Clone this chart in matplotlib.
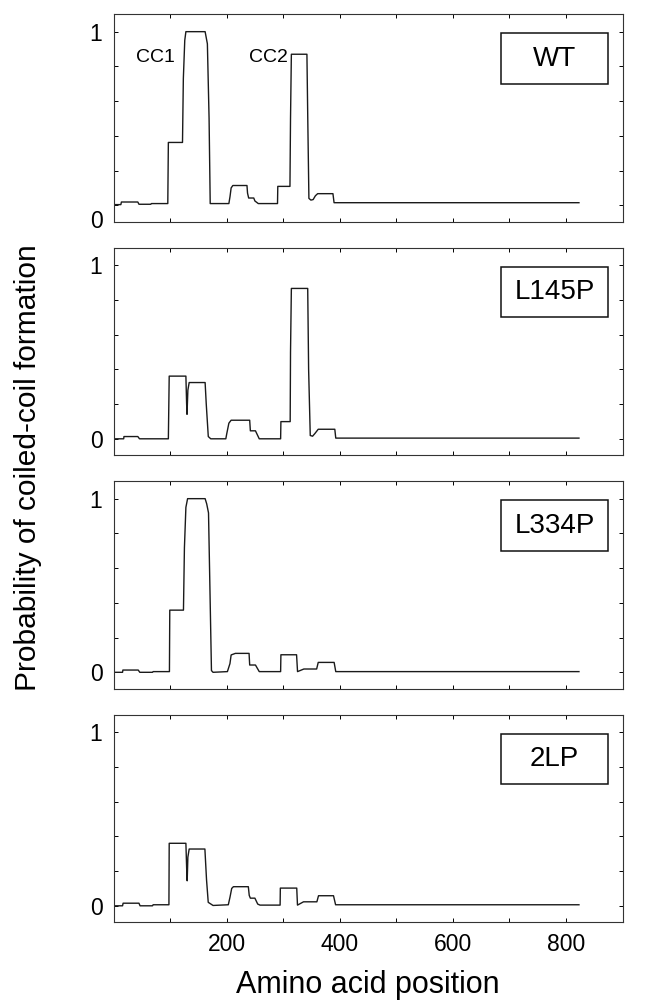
import matplotlib
matplotlib.use("Agg")
import matplotlib.pyplot as plt
import matplotlib.transforms as mtransforms
from matplotlib.patches import Rectangle
from matplotlib.ticker import FixedLocator, FuncFormatter

plt.rcParams['font.family'] = ['Liberation Sans', 'DejaVu Sans']

# traces (amino acid position, probability)
wt_x = [1, 13, 14, 43, 45, 66, 67, 96, 97, 122, 123.5, 126, 128, 162, 166, 169, 171,
        204, 206, 208, 211, 236, 237, 239, 248, 250, 256, 290, 290.5, 312, 313, 314.5,
        342, 343.5, 345.5, 349, 353, 357, 361, 388, 390, 823]
wt_y = [0.004, 0.004, 0.019, 0.019, 0.006, 0.006, 0.01, 0.01, 0.362, 0.362, 0.73, 0.95, 1.0, 1.0, 0.93, 0.5, 0.01,
        0.01, 0.05, 0.1, 0.114, 0.114, 0.07, 0.042, 0.042, 0.025, 0.01, 0.01, 0.109, 0.109, 0.5, 0.87,
        0.87, 0.5, 0.04, 0.03, 0.033, 0.055, 0.067, 0.067, 0.015, 0.015]

l145p_x = [1, 18, 18.5, 43, 46, 97, 98.5, 128, 129.3, 130, 131.5, 133.8, 162, 164, 167.6, 172,
           198.6, 200.3, 204, 208, 240.8, 242, 251, 257.7, 295.5, 296, 312.4, 313, 314.5,
           343.4, 345, 347.9, 352, 356, 362, 391.3, 393, 823]
l145p_y = [0.0, 0.0, 0.013, 0.013, 0.0, 0.0, 0.361, 0.361, 0.2, 0.141, 0.28, 0.324, 0.324, 0.2, 0.013, 0.0,
           0.0, 0.03, 0.09, 0.107, 0.107, 0.046, 0.046, 0.0, 0.0, 0.099, 0.099, 0.5, 0.866,
           0.866, 0.4, 0.019, 0.015, 0.03, 0.055, 0.055, 0.004, 0.004]

l334p_x = [1.4, 16, 16.6, 43.7, 46.5, 69, 70, 98.9, 99.5, 123.7, 125.4, 128, 131, 162, 164.8, 168, 170.4,
           173.2, 176, 201.4, 205.9, 208, 215.5, 239.7, 240.8, 251, 257.7, 295.5, 296, 323.7, 325.4,
           336.6, 359.2, 362, 390.1, 393, 823]
l334p_y = [0.0, 0.0, 0.013, 0.013, 0.0, 0.0, 0.004, 0.004, 0.358, 0.358, 0.717, 0.95, 1.0, 1.0, 0.97, 0.918, 0.5,
           0.01, 0.0, 0.004, 0.05, 0.1, 0.109, 0.109, 0.042, 0.042, 0.004, 0.004, 0.101, 0.101, 0.004,
           0.019, 0.019, 0.057, 0.057, 0.004, 0.004]

lp2_x = [2, 16, 17, 45, 47, 69, 70, 98, 98.5, 128, 129.5, 130.3, 131.5, 133.8, 161.6, 164.5, 167.5,
         176, 203, 206, 209, 212, 238.4, 240, 242, 250, 255, 259, 294.6, 295, 324, 325.3,
         336, 359.6, 362.5, 389, 392.7, 823]
lp2_y = [0.0, 0.0, 0.015, 0.015, 0.0, 0.0, 0.006, 0.006, 0.36, 0.36, 0.2, 0.144, 0.28, 0.327, 0.327, 0.15, 0.02,
         0.002, 0.006, 0.05, 0.1, 0.11, 0.11, 0.06, 0.044, 0.044, 0.01, 0.004, 0.004, 0.102, 0.102, 0.004,
         0.023, 0.023, 0.058, 0.058, 0.006, 0.006]

names = ['WT', 'L145P', 'L334P', '2LP']
xs = [wt_x, l145p_x, l334p_x, lp2_x]
ys = [wt_y, l145p_y, l334p_y, lp2_y]

W, H = 649, 1002
fig = plt.figure(figsize=(W / 100, H / 100), dpi=100)

left = 113.5 / W
width = (622.5 - 113.5) / W
ph = 207.5
axes = []
for i in range(4):
    top = 14.3 + i * 233.5
    ax = fig.add_axes([left, 1 - (top + ph) / H, width, ph / H])
    ax.plot(xs[i], ys[i], color='#1a1a1a', lw=1.0)
    ax.set_xlim(0, 900)
    ax.set_ylim(-0.095, 1.1)
    ax.xaxis.set_major_locator(FixedLocator([100, 200, 300, 400, 500, 600, 700, 800]))
    ax.yaxis.set_major_locator(FixedLocator([0, 0.2, 0.4, 0.6, 0.8, 1.0]))
    ax.xaxis.set_major_formatter(FuncFormatter(lambda v, p: '%d' % v if int(v) % 200 == 0 else ''))
    ax.yaxis.set_major_formatter(FuncFormatter(lambda v, p: '%d' % round(v) if abs(v - round(v)) < 1e-6 else ''))
    ax.tick_params(direction='in', top=True, right=True, length=3, width=0.7, labelsize=16.5)
    ax.tick_params(axis='y', pad=8)
    ax.tick_params(axis='x', pad=8)
    if i < 3:
        ax.tick_params(labelbottom=False)
    for s in ax.spines.values():
        s.set_linewidth(0.8)
        s.set_color('#333333')
    # label box in upper right
    ax.add_patch(Rectangle((685, 0.70), 190, 0.29, fill=False, lw=1.1, ec='#111111'))
    ax.text(780, 0.845, names[i], ha='center', va='center', fontsize=20)
    axes.append(ax)

# the "0" of the top panel sits a little below its tick in the original
fig.canvas.draw()
lab0 = axes[0].get_yticklabels()[0]
lab0.set_transform(lab0.get_transform() + mtransforms.ScaledTranslation(0, -14 / 100, fig.dpi_scale_trans))

axes[0].text(74, 0.85, 'CC1', ha='center', va='center', fontsize=14)
axes[0].text(274, 0.85, 'CC2', ha='center', va='center', fontsize=14)

fig.text(28 / W, 1 - 468 / H, 'Probability of coiled-coil formation', rotation=90,
         ha='center', va='center', fontsize=21.5)
fig.text((113.5 + 622.5) / 2 / W, 1 - 985 / H, 'Amino acid position',
         ha='center', va='center', fontsize=22)

fig.savefig('out.png', dpi=100)
